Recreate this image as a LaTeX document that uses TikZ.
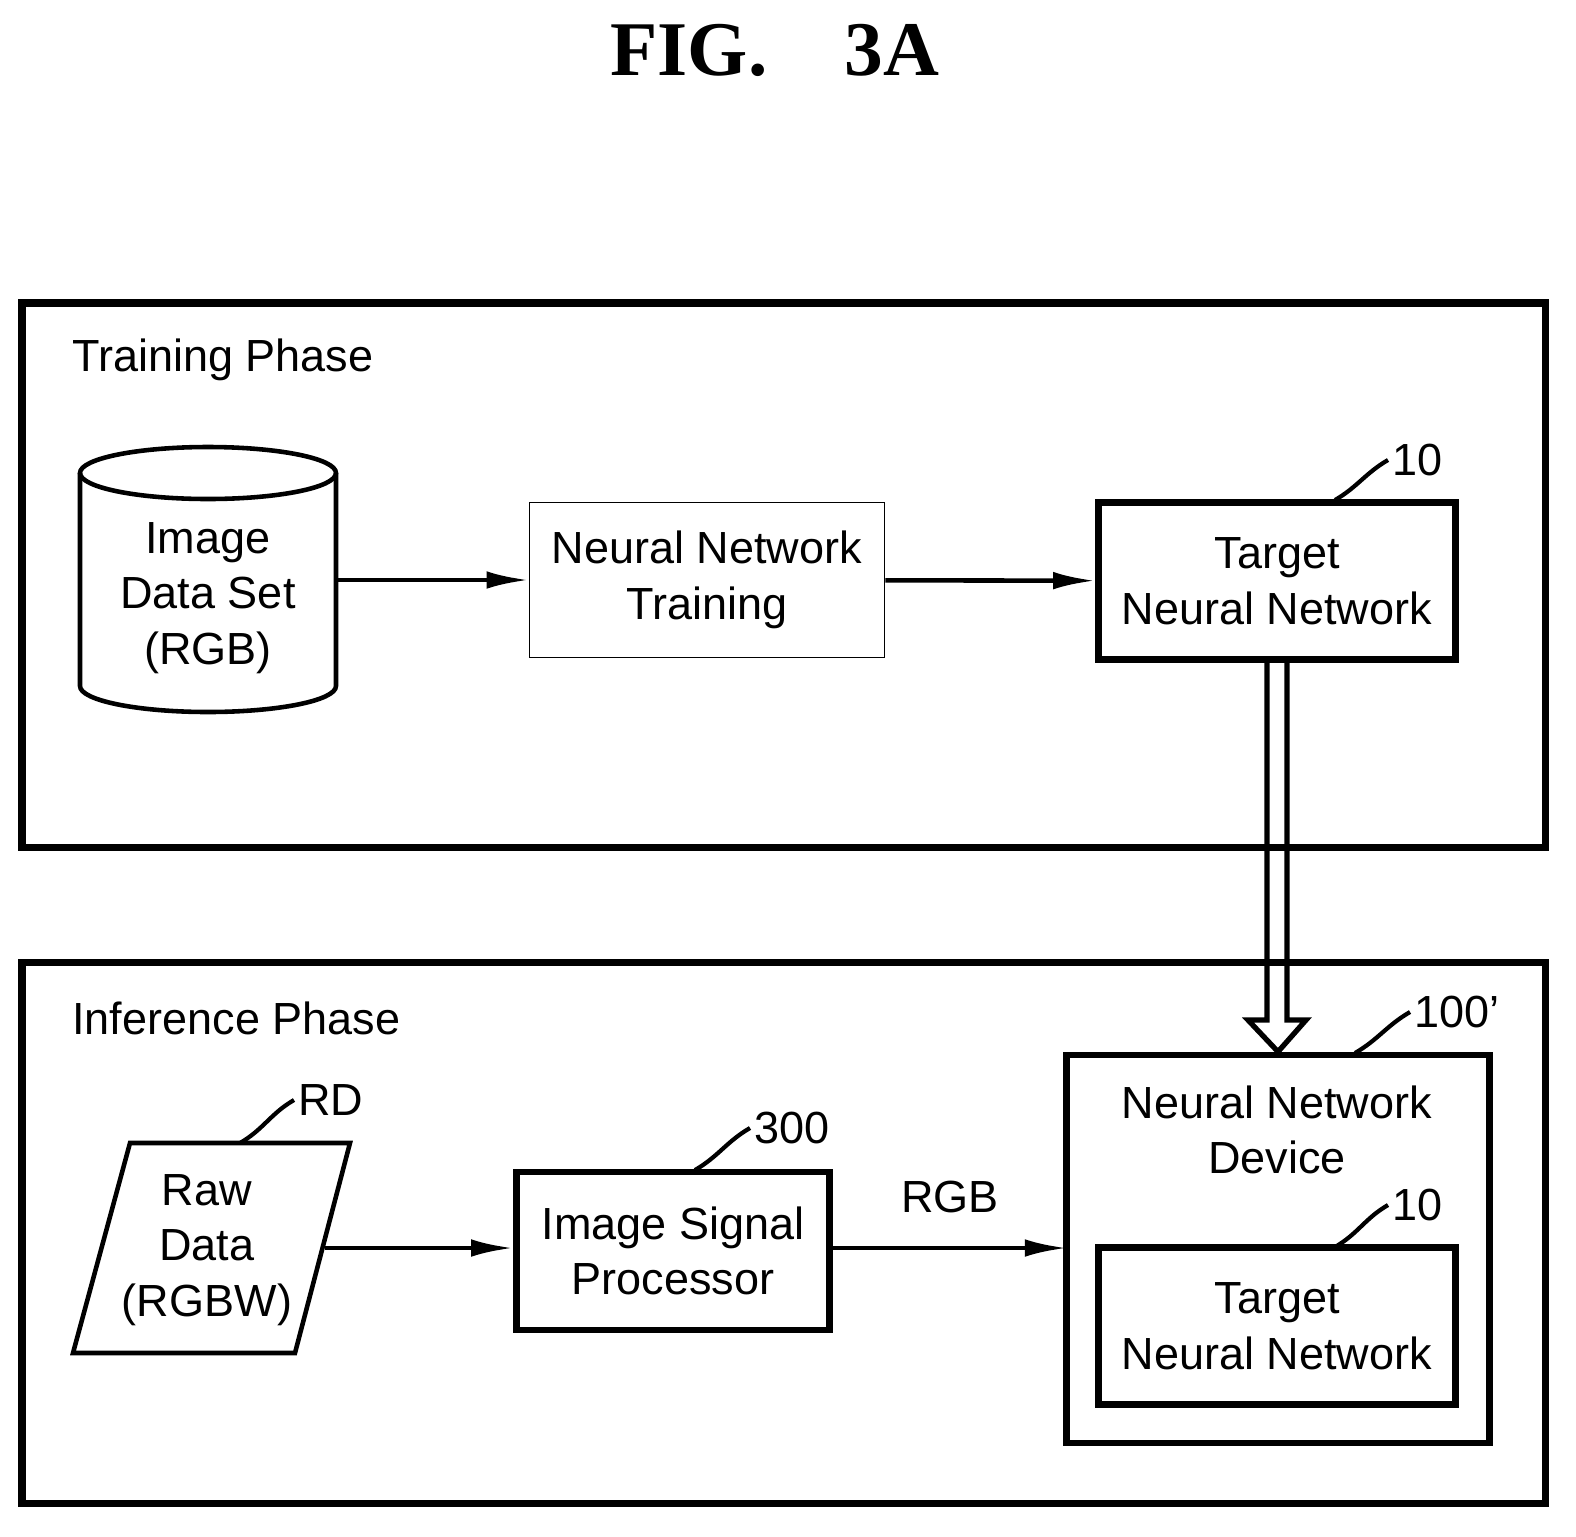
\documentclass[tikz,border=0pt]{standalone}
\usepackage{fontspec}
\setmainfont{Liberation Sans}
\newfontfamily\titlefont{Liberation Serif}
\usetikzlibrary{positioning, calc, shapes.geometric, arrows.meta}
\tikzstyle{Arrow} = [
%flow arrow between blocks
line width=1.3pt, -{Latex[length=12pt, width=5pt]}
]
\tikzstyle{Leader} = [line width=1.2pt]
\begin{document}
\begin{tikzpicture}[x=0.01cm, y=-0.01cm,
				every node/.style = {font=\fontsize{12.8}{15.8}\selectfont, align=center},
				block/.style = {rectangle, draw, line width=1.8pt, minimum width=3.57cm, minimum height=1.57cm},
				plain/.style = {rectangle, draw, thin, minimum width=3.55cm, minimum height=1.55cm},
				frame/.style = {draw, line width=2pt},
				tag/.style = {anchor=west, inner sep=1pt},
			]
			\useasboundingbox (0,0) rectangle (1576,1536);
			\node(title) at (775,50){\titlefont\bfseries\fontsize{22}{26}\selectfont FIG.\quad 3A};

			% training phase
			\draw[frame] (22,303) rectangle (1545,847);
			\node[anchor=west] (TP) at (60,360){Training Phase};
			\draw[line width=1.3pt] (80,473) -- (80,686) arc[start angle=180, end angle=0, x radius=128, y radius=26]
				-- (336,473);
			\draw[line width=1.3pt] (208,473) ellipse[x radius=128, y radius=26];
			\node(DS) at (208,598){Image\\Data Set\\(RGB)};
			\coordinate (DSr) at (336,580);
			\node[plain](NT) at (707,580){Neural Network\\Training};
			\node[block](TN) at (1277,581){Target\\Neural Network};
			\node[tag](L10) at (1388,460){10};
			\draw[Leader] (1335,500) to[out=30, in=210] (L10.west);

			\draw[Arrow](DSr)--(NT);
			\draw[Arrow](NT)--(TN);

			% inference phase
			\draw[frame] (22,962) rectangle (1545,1503);
			\node[anchor=west] (IP) at (60,1018){Inference Phase};
			\draw[line width=1.3pt] (130,1143) -- (350,1143) -- (295,1353) -- (73,1353) -- cycle;
			\node(RD) at (207,1250){Raw\\Data\\(RGBW)};
			\node[tag](LRD) at (294,1100){RD};
			\draw[Leader] (240,1143) to[out=30, in=210] (LRD.west);
			\node[block, minimum width=3.13cm, minimum height=1.58cm](ISP) at (673,1251){Image Signal\\Processor};
			\node[tag](L300) at (750,1128){300};
			\draw[Leader] (695,1170) to[out=30, in=210] (L300.west);
			\node[block, minimum width=4.23cm, minimum height=3.88cm](ND) at (1278,1249){};
			\node(NDt) at (1277,1130){Neural Network\\Device};
			\node[tag](L100) at (1410,1012){100'};
			\draw[Leader] (1355,1053) to[out=30, in=210] (L100.west);
			\node[block](TN2) at (1277,1326){Target\\Neural Network};
			\node[tag](L10b) at (1388,1205){10};
			\draw[Leader] (1335,1247) to[out=30, in=210] (L10b.west);

			\coordinate (RDr) at (325,1248);
			\coordinate (NDl) at (1067,1248);
			\draw[Arrow](RDr)--(ISP.west |- RDr);
			\draw[Arrow](ISP.east |- RDr)--node[midway, above=6pt]{RGB}(NDl);

			% transfer of the trained network
			\draw[line width=1.5pt, line join=miter] ($(TN.south)+(-10,0)$) -- (1267,1020) -- (1248,1020)
				-- (ND.north) -- (1306,1020) -- (1287,1020) -- ($(TN.south)+(10,0)$);
		\end{tikzpicture}
\end{document}
